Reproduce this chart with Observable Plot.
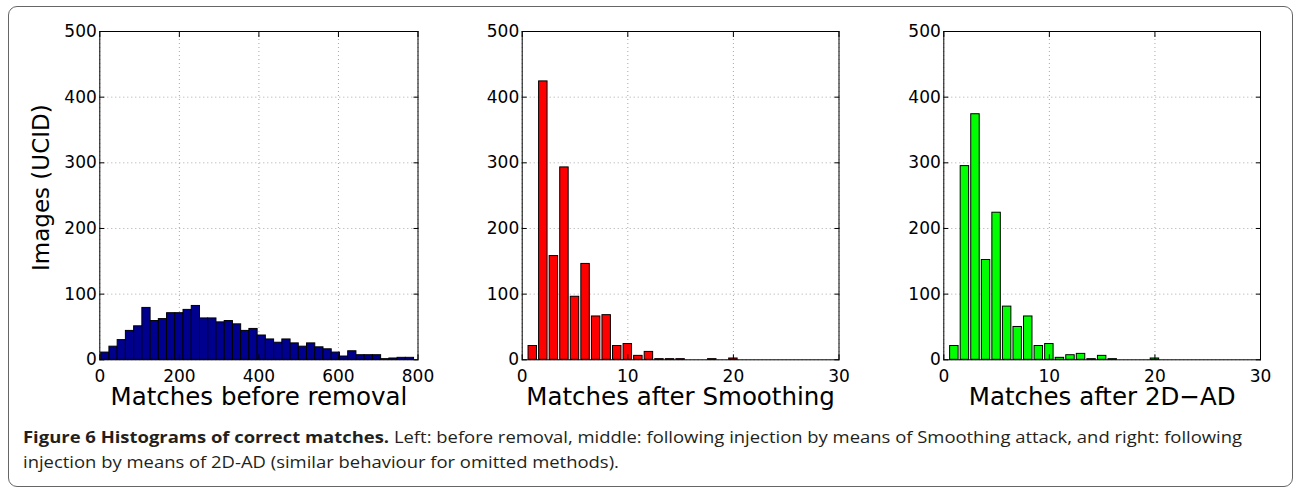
<!DOCTYPE html>
<html><head><meta charset="utf-8">
<script src="https://cdn.jsdelivr.net/npm/d3@7"></script>
<script src="https://cdn.jsdelivr.net/npm/@observablehq/plot@0.6"></script>
<style>
body{margin:0;background:#fff;}
#fig{position:relative;width:1294px;height:493px;overflow:hidden;background:#fff;}
#border{position:absolute;left:8px;top:6px;width:1285px;height:481px;border:1px solid #666;border-radius:9px;box-sizing:border-box;}
.panel{position:absolute;top:0;}
#caption{position:absolute;left:23px;top:424.5px;white-space:nowrap;font-family:"Open Sans";font-size:15.5px;line-height:25px;color:#231f20;transform:scaleX(1.189);transform-origin:0 0;}
</style></head>
<body>
<div id="fig">
  <div id="border"></div>
  <div id="p1" class="panel" style="left:0px"></div>
  <div id="p2" class="panel" style="left:440px"></div>
  <div id="p3" class="panel" style="left:860px"></div>
  <div id="caption"><b>Figure 6 Histograms of correct matches.</b> Left: before removal, middle: following injection by means of Smoothing attack, and right: following<br>injection by means of 2D-AD (similar behaviour for omitted methods).</div>
</div>
<script>
// ---- data ----
const yTicks = [0, 100, 200, 300, 400, 500];

// Left: matches before removal (histogram bins)
const beforeBinStart = 3.5;
const beforeBinWidth = 20.7;
const beforeCounts = [11, 20, 30, 44, 51, 79, 59, 62, 71, 71, 76, 82, 63, 63, 57, 59, 54, 44, 47, 37,
                      31, 26, 31, 25, 20, 25, 19, 16, 11, 5, 13, 7, 7, 7, 1, 2, 3, 3];
const beforeXTicks = [0, 200, 400, 600, 800];

// Middle: matches after Smoothing
const smoothingMatches = [1, 2, 3, 4, 5, 6, 7, 8, 9, 10, 11, 12, 13, 14, 15, 16, 17, 18, 19, 20];
const smoothingCounts  = [21, 424, 158, 293, 96, 146, 66, 68, 21, 24, 6, 12, 1, 1, 1, 0, 0, 1, 0, 2];

// Right: matches after 2D-AD
const adMatches = [1, 2, 3, 4, 5, 6, 7, 8, 9, 10, 11, 12, 13, 14, 15, 16, 17, 18, 19, 20];
const adCounts  = [21, 295, 374, 152, 224, 81, 50, 66, 21, 24, 3, 7, 9, 1, 6, 1, 0, 0, 0, 2];
const smallXTicks = [0, 10, 20, 30];

const barHalfWidth = 0.4;

function panel({width, height, ml, mr, mt, mb, xDomain, xTicks, rects, fill, xLabel, yLabel}) {
  const grid = {stroke: "#a8a8a8", strokeOpacity: 1, strokeDasharray: "1,3", strokeWidth: 1};
  const marks = [
    Plot.gridX(xTicks, grid),
    Plot.gridY(yTicks, grid),
    Plot.rectY(rects, {x1: "x1", x2: "x2", y: "y", fill, stroke: "#000", strokeWidth: 1}),
    Plot.axisX(xTicks, {anchor: "bottom", tickSize: -5, tickPadding: 15, label: null, fontSize: 17}),
    Plot.axisX(xTicks, {anchor: "top", tickSize: -5, tickFormat: () => "", label: null}),
    Plot.axisY(yTicks, {anchor: "left", tickSize: -5, tickPadding: 8, label: null, fontSize: 17}),
    Plot.axisY(yTicks, {anchor: "right", tickSize: -5, tickFormat: () => "", label: null}),
    Plot.frame({stroke: "#000", strokeWidth: 1}),
    Plot.text([xLabel], {frameAnchor: "bottom", dy: 45, fontSize: 24.5, fill: "#000"})
  ];
  if (yLabel) marks.push(Plot.text([yLabel], {frameAnchor: "left", textAnchor: "middle", rotate: -90, dx: -58, dy: -8, fontSize: 23, fill: "#000"}));
  return Plot.plot({
    width, height,
    marginLeft: ml, marginRight: mr, marginTop: mt, marginBottom: mb,
    x: {domain: xDomain, label: null},
    y: {domain: [0, 500], label: null},
    style: {fontFamily: "DejaVu Sans", color: "#000", background: "transparent", overflow: "visible"},
    marks
  });
}

const beforeRects = beforeCounts.map((c, i) => ({x1: beforeBinStart + i * beforeBinWidth, x2: beforeBinStart + (i + 1) * beforeBinWidth, y: c}));
const smoothingRects = smoothingMatches.map((m, i) => ({x1: m - barHalfWidth, x2: m + barHalfWidth, y: smoothingCounts[i]}));
const adRects = adMatches.map((m, i) => ({x1: m - barHalfWidth, x2: m + barHalfWidth, y: adCounts[i]}));

document.getElementById("p1").append(panel({
  width: 440, height: 420, ml: 99.3, mr: 22.5, mt: 31, mb: 60.7,
  xDomain: [0, 800], xTicks: beforeXTicks, rects: beforeRects, fill: "#00008f",
  xLabel: "Matches before removal", yLabel: "Images (UCID)"
}));
document.getElementById("p2").append(panel({
  width: 420, height: 420, ml: 81.7, mr: 21.5, mt: 31, mb: 60.7,
  xDomain: [0, 30], xTicks: smallXTicks, rects: smoothingRects, fill: "#ff0000",
  xLabel: "Matches after Smoothing"
}));
document.getElementById("p3").append(panel({
  width: 434, height: 420, ml: 83.3, mr: 34, mt: 31, mb: 60.7,
  xDomain: [0, 30], xTicks: smallXTicks, rects: adRects, fill: "#00ff00",
  xLabel: "Matches after 2D\u2212AD"
}));
</script>
</body></html>
